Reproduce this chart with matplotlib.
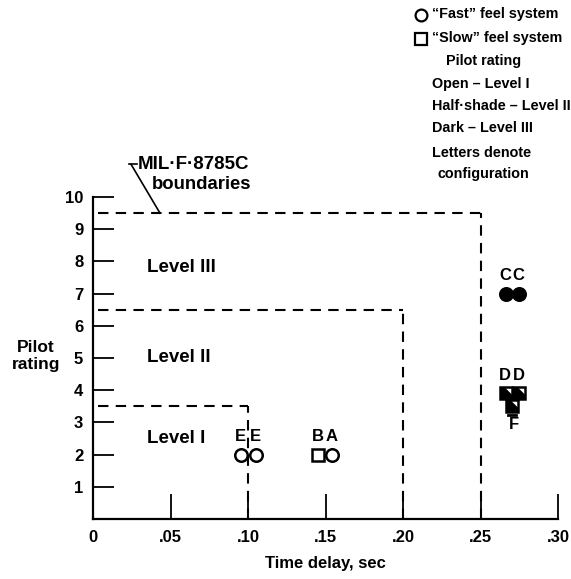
import matplotlib.pyplot as plt
from matplotlib.path import Path

plt.rcParams['font.family'] = ['Liberation Sans', 'DejaVu Sans']
plt.rcParams['font.weight'] = 'bold'

# Data
configs = ['E', 'E', 'B', 'A', 'C', 'C', 'D', 'D', 'F']
systems = ['fast', 'fast', 'slow', 'fast', 'fast', 'fast', 'slow', 'slow', 'slow']
delays = [0.0955, 0.1052, 0.1452, 0.1545, 0.2662, 0.2748, 0.2662, 0.2748, 0.2705]
ratings = [2.0, 2.0, 2.0, 2.0, 7.0, 7.0, 3.9, 3.9, 3.5]
levels = [1, 1, 1, 1, 3, 3, 2, 2, 2]

# MIL-F-8785C level boundaries (time delay, rating)
bound_delay = [0.10, 0.20, 0.25]
bound_rating = [3.5, 6.5, 9.5]
level_names = ['Level I', 'Level II', 'Level III']
level_label_y = [2.5, 5.0, 7.8]

xticks = [0, 0.05, 0.10, 0.15, 0.20, 0.25, 0.30]
xticklabels = ['0', '.05', '.10', '.15', '.20', '.25', '.30']
yticks = list(range(1, 11))

W, H = 571, 579
fig = plt.figure(figsize=(W / 100, H / 100), dpi=100)
ax = fig.add_axes([93 / W, 1 - 519 / H, 465 / W, 322 / H])
ax.set_xlim(0, 0.30)
ax.set_ylim(0, 10)

for s in ['top', 'right']:
    ax.spines[s].set_visible(False)
for s in ['left', 'bottom']:
    ax.spines[s].set_linewidth(1.6)

ax.set_xticks(xticks)
ax.set_xticklabels(xticklabels)
ax.set_yticks(yticks)
ax.tick_params(axis='y', direction='in', length=15, width=1.3, labelsize=12, pad=7)
ax.tick_params(axis='x', direction='in', length=18, width=1.3, labelsize=12, pad=8)
ax.set_xlabel('Time delay, sec', fontsize=12, fontweight='bold', labelpad=8)
fig.text(36 / W, 1 - 356 / H, 'Pilot\nrating', ha='center', va='center',
         fontsize=12.5, fontweight='bold', linespacing=1.2)

# boundaries
dash = (0, (5, 3.5))
for bx, by in zip(bound_delay, bound_rating):
    ax.plot([0.003, bx], [by, by], color='black', lw=1.5, ls=dash)
    ax.plot([bx, bx], [0, by], color='black', lw=1.5, ls=dash)

for name, ly in zip(level_names, level_label_y):
    ax.text(0.035, ly, name, fontsize=13.5, fontweight='bold', va='center', ha='left')

# annotation for boundaries
ax.plot([0.0232, 0.0285], [11.02, 11.02], color='black', lw=1.2, clip_on=False)
ax.plot([0.0245, 0.0432], [11.02, 9.5], color='black', lw=1.2, clip_on=False)
ax.text(0.0290, 11.02, 'MIL\u00b7F\u00b78785C', fontsize=13.5, fontweight='bold',
        va='center', ha='left', clip_on=False)
ax.text(0.0380, 10.40, 'boundaries', fontsize=13.3, fontweight='bold',
        va='center', ha='left', clip_on=False)

# half-shade marker (diagonal half dark)
half = Path([(-1, -1), (1, -1), (1, -0.3), (-0.3, 1), (-1, 1), (-1, -1)],
            [Path.MOVETO] + [Path.LINETO] * 4 + [Path.CLOSEPOLY])

ms = 9
for x, y, sysname, lev in zip(delays, ratings, systems, levels):
    mk = 'o' if sysname == 'fast' else 's'
    fc = {1: 'white', 2: 'white', 3: 'black'}[lev]
    ax.plot(x, y, marker=mk, ms=ms, mfc=fc, mec='black', mew=1.8, ls='none', zorder=3)
    if lev == 2:
        ax.plot(x, y, marker=half, ms=ms, mfc='black', mec='none',
                ls='none', zorder=4)

# configuration letters
for c, x, y in zip(configs, delays, ratings):
    if c == 'F':
        ax.plot([x - 0.0025, x + 0.0025], [y - 0.26, y - 0.26], color='black', lw=2)
        ax.text(x + 0.0008, y - 0.55, c, fontsize=12, fontweight='bold',
                ha='center', va='center')
    else:
        ax.text(x - 0.0003, y + 0.55, c, fontsize=12, fontweight='bold',
                ha='center', va='center')

# key in the upper right
key_x = 432 / W
fig.lines.append(plt.Line2D([421 / W], [1 - 15 / H], marker='o', ms=8.5, mfc='white',
                            mec='black', mew=1.6, transform=fig.transFigure))
fig.lines.append(plt.Line2D([421 / W], [1 - 39 / H], marker='s', ms=8, mfc='white',
                            mec='black', mew=1.6, transform=fig.transFigure))
key_lines = [
    (key_x, 14, '\u201cFast\u201d feel system'),
    (key_x, 38, '\u201cSlow\u201d feel system'),
    (446 / W, 61, 'Pilot rating'),
    (key_x, 84, 'Open \u2013 Level I'),
    (key_x, 106, 'Half\u00b7shade \u2013 Level II'),
    (key_x, 128, 'Dark \u2013 Level III'),
    (key_x, 153, 'Letters denote'),
    (437 / W, 174, 'configuration'),
]
for kx, ky, txt in key_lines:
    fig.text(kx, 1 - ky / H, txt, fontsize=10.4, fontweight='bold', ha='left', va='center')

fig.savefig('out.png', dpi=100)
